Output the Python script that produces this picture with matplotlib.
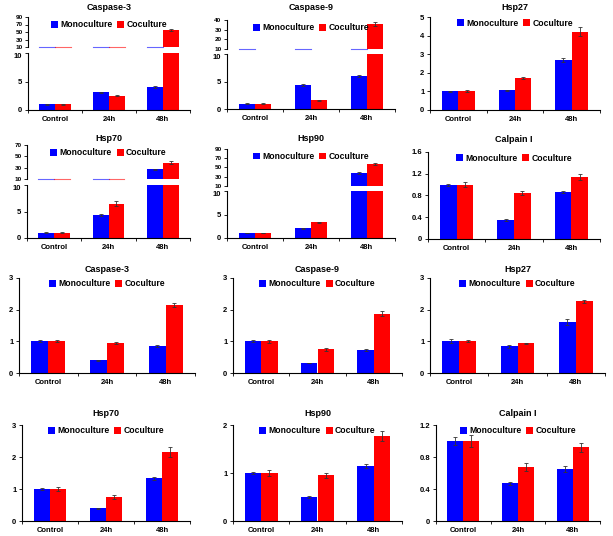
import matplotlib
matplotlib.use("Agg")
import matplotlib.pyplot as plt
import numpy as np

plt.rcParams['font.family'] = ['Liberation Sans', 'DejaVu Sans']
plt.rcParams['font.weight'] = 'bold'

categories = ["Control", "24h", "48h"]
series_names = ["Monoculture", "Coculture"]
colors = ["#0000FF", "#FF0000"]

# ---- upper block (broken axes where needed) ----
casp3_a_mono = [1.0, 3.1, 4.0]
casp3_a_mono_err = [0.05, 0.12, 0.2]
casp3_a_co = [1.0, 2.5, 55.0]
casp3_a_co_err = [0.05, 0.1, 1.8]

casp9_a_mono = [1.0, 4.4, 6.0]
casp9_a_mono_err = [0.05, 0.15, 0.2]
casp9_a_co = [1.0, 1.6, 36.0]
casp9_a_co_err = [0.05, 0.08, 1.8]

hsp27_a_mono = [1.0, 1.05, 2.68]
hsp27_a_mono_err = [0.04, 0.04, 0.12]
hsp27_a_co = [1.0, 1.73, 4.22]
hsp27_a_co_err = [0.05, 0.07, 0.22]

hsp70_a_mono = [1.0, 4.4, 27.0]
hsp70_a_mono_err = [0.05, 0.2, 1.5]
hsp70_a_co = [1.0, 6.5, 39.0]
hsp70_a_co_err = [0.05, 0.4, 2.0]

hsp90_a_mono = [1.0, 2.1, 38.0]
hsp90_a_mono_err = [0.03, 0.1, 1.5]
hsp90_a_co = [1.0, 3.3, 57.0]
hsp90_a_co_err = [0.03, 0.1, 2.0]

calp_a_mono = [1.0, 0.35, 0.86]
calp_a_mono_err = [0.02, 0.01, 0.02]
calp_a_co = [1.0, 0.85, 1.14]
calp_a_co_err = [0.04, 0.04, 0.05]

# ---- lower block ----
casp3_b_mono = [1.0, 0.40, 0.86]
casp3_b_mono_err = [0.03, 0.01, 0.03]
casp3_b_co = [1.0, 0.95, 2.15]
casp3_b_co_err = [0.03, 0.03, 0.07]

casp9_b_mono = [1.0, 0.32, 0.72]
casp9_b_mono_err = [0.03, 0.01, 0.03]
casp9_b_co = [1.0, 0.75, 1.87]
casp9_b_co_err = [0.04, 0.04, 0.08]

hsp27_b_mono = [1.0, 0.84, 1.60]
hsp27_b_mono_err = [0.06, 0.04, 0.09]
hsp27_b_co = [1.0, 0.94, 2.26]
hsp27_b_co_err = [0.03, 0.02, 0.06]

hsp70_b_mono = [1.0, 0.40, 1.33]
hsp70_b_mono_err = [0.04, 0.02, 0.06]
hsp70_b_co = [1.0, 0.76, 2.15]
hsp70_b_co_err = [0.07, 0.06, 0.15]

hsp90_b_mono = [1.0, 0.50, 1.15]
hsp90_b_mono_err = [0.03, 0.02, 0.04]
hsp90_b_co = [1.0, 0.95, 1.77]
hsp90_b_co_err = [0.07, 0.06, 0.11]

calp_b_mono = [1.0, 0.47, 0.65]
calp_b_mono_err = [0.05, 0.02, 0.04]
calp_b_co = [1.0, 0.67, 0.92]
calp_b_co_err = [0.07, 0.05, 0.06]

W, H = 613, 536
fig = plt.figure(figsize=(W / 100, H / 100), dpi=100)

def add_ax(x0, x1, ytop, ybot):
    return fig.add_axes([x0 / W, 1 - ybot / H, (x1 - x0) / W, (ybot - ytop) / H])

FS_TICK = 5.5
FS_TICK_UP = 4.6
FS_TITLE = 6.5
FS_LEG = 6.2
BW = 0.29

def style_y(ax, fs=FS_TICK):
    ax.spines['top'].set_visible(False)
    ax.spines['right'].set_visible(False)
    ax.tick_params(axis='y', direction='out', length=2, width=0.6, labelsize=fs, pad=2)
    for lab in ax.get_yticklabels():
        lab.set_fontweight('bold')

def style_x(ax):
    ax.set_xlim(0, 3)
    ax.set_xticks([0, 1, 2, 3])
    ax.set_xticklabels([])
    ax.set_xticks([0.5, 1.5, 2.5], minor=True)
    ax.set_xticklabels(categories, minor=True, fontsize=FS_TICK, fontweight='bold')
    ax.tick_params(axis='x', which='major', direction='out', length=2, width=0.6)
    ax.tick_params(axis='x', which='minor', length=0, pad=4)

def draw_bars(ax, mono, mono_err, co, co_err, base=0.0, stubs=(True, True)):
    x = np.arange(len(categories)) + 0.5
    handles = []
    for k, (vals, errs) in enumerate([(mono, mono_err), (co, co_err)]):
        vals = np.asarray(vals, float)
        errs = np.asarray(errs, float)
        pos = x - BW / 2 + k * BW
        if base > 0:
            heights = np.clip(vals - base, 0, None)
            above = vals > base
            b = ax.bar(pos[above], heights[above], BW, bottom=base, color=colors[k],
                       label=series_names[k], zorder=2)
            ax.errorbar(pos[above], vals[above], yerr=errs[above], fmt='none',
                        ecolor='#333333', elinewidth=0.6, capsize=1.5, capthick=0.6, zorder=3)
            for p, a in zip(pos[~above], vals[~above]):
                if stubs[k]:
                    ax.plot([p - BW / 2, p + BW / 2], [base, base], color=colors[k],
                            lw=0.8, alpha=0.6, clip_on=False, zorder=2)
            handles.append(b)
        else:
            b = ax.bar(pos, vals, BW, color=colors[k], label=series_names[k], zorder=2)
            ax.errorbar(pos, vals, yerr=errs, fmt='none', ecolor='#333333',
                        elinewidth=0.6, capsize=1.5, capthick=0.6, zorder=3)
            handles.append(b)
    return handles

def add_legend(ax, handles):
    from matplotlib.patches import Patch
    hs = [Patch(facecolor=colors[i], edgecolor='none') for i in range(2)]
    ax.legend(hs, series_names, loc='upper center', bbox_to_anchor=(0.5, 1.03), ncol=2,
              frameon=False, prop={'size': FS_LEG, 'weight': 'bold'},
              handlelength=0.8, handleheight=0.8, handletextpad=0.25, columnspacing=0.6,
              borderaxespad=0.1)

def simple_panel(title, x0, x1, ytop, ybot, ymax, yticks, ticklabels, ty, mono, me, co, ce):
    ax = add_ax(x0, x1, ytop, ybot)
    h = draw_bars(ax, mono, me, co, ce)
    ax.set_ylim(0, ymax)
    ax.set_yticks(yticks)
    ax.set_yticklabels(ticklabels)
    style_y(ax)
    style_x(ax)
    add_legend(ax, h)
    fig.text((x0 + x1) / 2 / W, 1 - ty / H, title, ha='center', va='center',
             fontsize=FS_TITLE, fontweight='bold')
    return ax

def broken_panel(title, x0, x1, up_top, up_bot, lo_top, lo_bot, up_lim, up_ticks, ty,
                 mono, me, co, ce, stubs=(True, True)):
    axu = add_ax(x0, x1, up_top, up_bot)
    axl = add_ax(x0, x1, lo_top, lo_bot)
    h = draw_bars(axu, mono, me, co, ce, base=up_lim[0], stubs=stubs)
    axu.set_ylim(*up_lim)
    axu.set_yticks(up_ticks)
    axu.set_xlim(0, 3)
    axu.set_xticks([])
    axu.spines['bottom'].set_visible(False)
    style_y(axu, FS_TICK_UP)
    draw_bars(axl, mono, me, co, ce)
    axl.set_ylim(0, 10)
    axl.set_yticks([0, 5, 10])
    style_y(axl)
    style_x(axl)
    # keep the "10" label of the lower part clear of the upper part
    fig.canvas.draw()
    axl.get_yticklabels()[-1].set_verticalalignment('top')
    add_legend(axu, h)
    fig.text((x0 + x1) / 2 / W, 1 - ty / H, title, ha='center', va='center',
             fontsize=FS_TITLE, fontweight='bold')

# Row 1
broken_panel("Caspase-3", 28, 190, 17, 47, 53, 110, (10, 90), [10, 30, 50, 70, 90], 8,
             casp3_a_mono, casp3_a_mono_err, casp3_a_co, casp3_a_co_err)
broken_panel("Caspase-9", 227, 395, 20, 49, 54, 109, (10, 40), [10, 20, 30, 40], 8,
             casp9_a_mono, casp9_a_mono_err, casp9_a_co, casp9_a_co_err, stubs=(True, False))
simple_panel("Hsp27", 430, 600, 17, 110, 5, [0, 1, 2, 3, 4, 5], ['0', '1', '2', '3', '4', '5'], 8,
             hsp27_a_mono, hsp27_a_mono_err, hsp27_a_co, hsp27_a_co_err)

# Row 2
broken_panel("Hsp70", 27, 190, 145, 179, 185, 238, (10, 70), [10, 30, 50, 70], 139,
             hsp70_a_mono, hsp70_a_mono_err, hsp70_a_co, hsp70_a_co_err)
broken_panel("Hsp90", 227, 395, 149, 186, 191, 238, (10, 90), [10, 30, 50, 70, 90], 139,
             hsp90_a_mono, hsp90_a_mono_err, hsp90_a_co, hsp90_a_co_err, stubs=(False, False))
simple_panel("Calpain I", 428, 600, 152, 239, 1.6, [0, 0.4, 0.8, 1.2, 1.6],
             ['0', '0.4', '0.8', '1.2', '1.6'], 140,
             calp_a_mono, calp_a_mono_err, calp_a_co, calp_a_co_err)

# Row 3
simple_panel("Caspase-3", 19, 195, 278, 373, 3, [0, 1, 2, 3], ['0', '1', '2', '3'], 270,
             casp3_b_mono, casp3_b_mono_err, casp3_b_co, casp3_b_co_err)
simple_panel("Caspase-9", 233, 402, 278, 373, 3, [0, 1, 2, 3], ['0', '1', '2', '3'], 270,
             casp9_b_mono, casp9_b_mono_err, casp9_b_co, casp9_b_co_err)
simple_panel("Hsp27", 430, 605, 278, 373, 3, [0, 1, 2, 3], ['0', '1', '2', '3'], 270,
             hsp27_b_mono, hsp27_b_mono_err, hsp27_b_co, hsp27_b_co_err)

# Row 4
simple_panel("Hsp70", 22, 190, 425, 521, 3, [0, 1, 2, 3], ['0', '1', '2', '3'], 413,
             hsp70_b_mono, hsp70_b_mono_err, hsp70_b_co, hsp70_b_co_err)
simple_panel("Hsp90", 233, 402, 425, 521, 2, [0, 1, 2], ['0', '1', '2'], 413,
             hsp90_b_mono, hsp90_b_mono_err, hsp90_b_co, hsp90_b_co_err)
simple_panel("Calpain I", 436, 600, 425, 521, 1.2, [0, 0.4, 0.8, 1.2],
             ['0', '0.4', '0.8', '1.2'], 413,
             calp_b_mono, calp_b_mono_err, calp_b_co, calp_b_co_err)

fig.savefig("out.png", dpi=100)
